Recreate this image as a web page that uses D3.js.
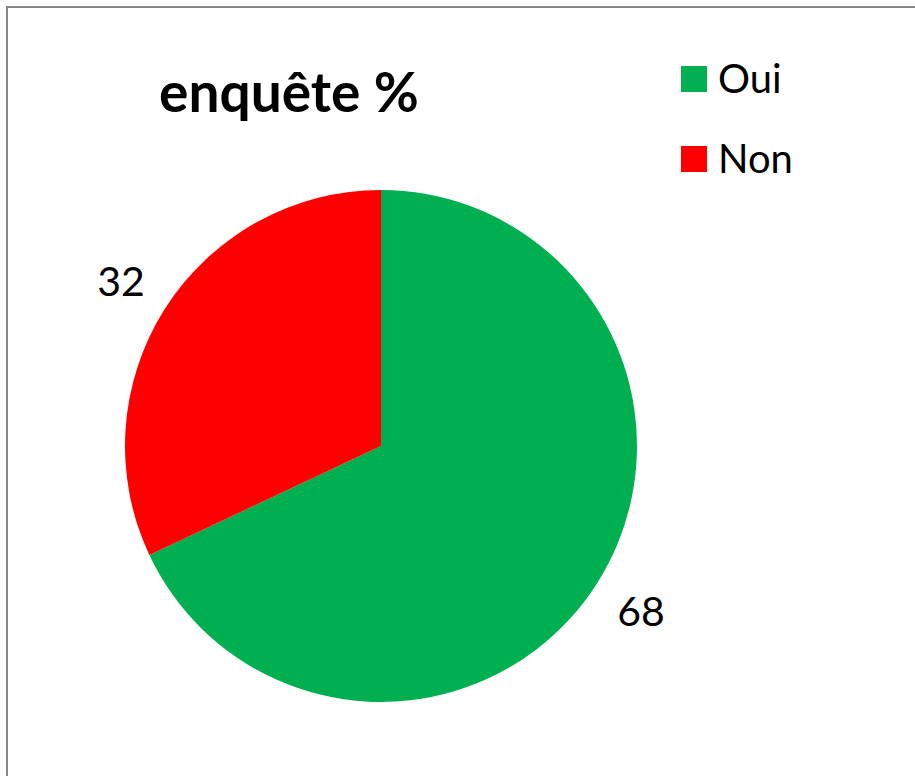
<!DOCTYPE html>
<html>
<head>
<meta charset="utf-8">
<script src="https://cdn.jsdelivr.net/npm/d3@7"></script>
<style>
  html, body { margin: 0; padding: 0; background: #fff; }
  svg { display: block; font-family: Lato, "Open Sans", sans-serif; }
</style>
</head>
<body>
<div id="chart"></div>
<script>
const categories = ['Oui', 'Non'];
const values = [68, 32];
const colors = ['#00b050', '#ff0000'];
const title = 'enquête %';

const width = 915, height = 776;
const cx = 381, cy = 446, radius = 256, labelRadius = 308;

const data = categories.map((c, i) => ({ name: c, value: values[i] }));

const svg = d3.select('#chart')
  .append('svg')
  .attr('width', width)
  .attr('height', height);

// chart frame (only top and left edges visible in the window)
svg.append('rect')
  .attr('x', 7)
  .attr('y', 7)
  .attr('width', width + 20)
  .attr('height', height + 20)
  .attr('fill', 'none')
  .attr('stroke', '#868686')
  .attr('stroke-width', 2);

svg.append('text')
  .attr('x', 289)
  .attr('y', 112)
  .attr('text-anchor', 'middle')
  .attr('font-weight', 'bold')
  .attr('font-size', 55)
  .text(title);

const pie = d3.pie().sort(null).value(d => d.value);
const arc = d3.arc().innerRadius(0).outerRadius(radius);
const labelArc = d3.arc().innerRadius(labelRadius).outerRadius(labelRadius);

const main = svg.append('g')
  .attr('transform', `translate(${cx}, ${cy})`);

main.selectAll('path')
  .data(pie(data))
  .enter().append('path')
  .attr('d', arc)
  .attr('fill', (d, i) => colors[i]);

main.selectAll('text')
  .data(pie(data))
  .enter().append('text')
  .attr('transform', d => `translate(${labelArc.centroid(d)})`)
  .attr('text-anchor', 'middle')
  .attr('dy', '0.36em')
  .attr('font-size', 41)
  .text(d => d.data.value);

// legend
const legend = svg.append('g')
  .attr('transform', 'translate(681, 66)');
const items = legend.selectAll('g')
  .data(data)
  .enter().append('g')
  .attr('transform', (d, i) => `translate(0, ${i * 80})`);
items.append('rect')
  .attr('width', 26)
  .attr('height', 26)
  .attr('fill', (d, i) => colors[i]);
items.append('text')
  .attr('x', 37)
  .attr('y', 27)
  .attr('font-size', 40)
  .text(d => d.name);
</script>
</body>
</html>
